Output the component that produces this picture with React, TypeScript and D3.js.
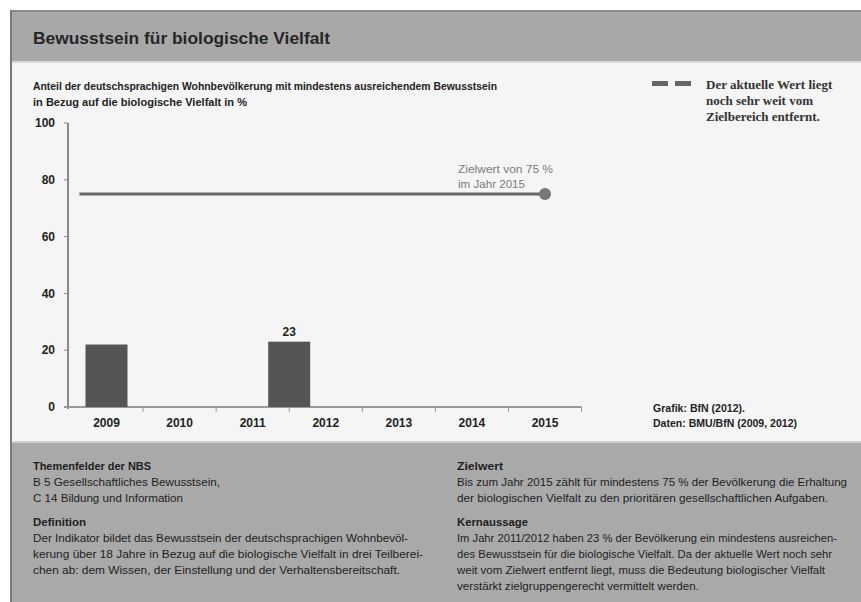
import React from "react";
import * as d3 from "d3";

const years = [2009, 2010, 2011, 2012, 2013, 2014, 2015];
const barPositions = [2009, 2011.5];
const barValues = [22, 23];
const barValueLabels = ["", "23"];
const yTicks = [0, 20, 40, 60, 80, 100];
const targetValue = 75;
const targetYear = 2015;
const targetLabel = ["Zielwert von 75 %", "im Jahr 2015"];

const title = "Bewusstsein für biologische Vielfalt";
const subtitle = [
  "Anteil der deutschsprachigen Wohnbevölkerung mit mindestens ausreichendem Bewusstsein",
  "in Bezug auf die biologische Vielfalt in %",
];
const legendText = ["Der aktuelle Wert liegt", "noch sehr weit vom", "Zielbereich entfernt."];
const sourceText = ["Grafik: BfN (2012).", "Daten: BMU/BfN (2009, 2012)"];

const leftBlock = [
  { t: "Themenfelder der NBS", b: true, w: 118 },
  { t: "B 5 Gesellschaftliches Bewusstsein,", b: false, w: 187 },
  { t: "C 14 Bildung und Information", b: false, w: 150 },
  { t: "Definition", b: true, gap: true, w: 53 },
  { t: "Der Indikator bildet das Bewusstsein der deutschsprachigen Wohnbevöl-", b: false, w: 375 },
  { t: "kerung über 18 Jahre in Bezug auf die biologische Vielfalt in drei Teilberei-", b: false, w: 390 },
  { t: "chen ab: dem Wissen, der Einstellung und der Verhaltensbereitschaft.", b: false, w: 367 },
];
const rightBlock = [
  { t: "Zielwert", b: true, w: 46 },
  { t: "Bis zum Jahr 2015 zählt für mindestens 75 % der Bevölkerung die Erhaltung", b: false, w: 390 },
  { t: "der biologischen Vielfalt zu den prioritären gesellschaftlichen Aufgaben.", b: false, w: 371 },
  { t: "Kernaussage", b: true, gap: true, w: 71 },
  { t: "Im Jahr 2011/2012 haben 23 % der Bevölkerung ein mindestens ausreichen-", b: false, w: 380 },
  { t: "des Bewusstsein für die biologische Vielfalt. Da der aktuelle Wert noch sehr", b: false, w: 375 },
  { t: "weit vom Zielwert entfernt liegt, muss die Bedeutung biologischer Vielfalt", b: false, w: 368 },
  { t: "verstärkt zielgruppengerecht vermittelt werden.", b: false, w: 242 },
];

const W = 861;
const H = 602;
const SANS = "'Liberation Sans Narrow', 'Liberation Sans', Arial, sans-serif";
const SERIF = "'Liberation Serif', 'DejaVu Serif', serif";

export default function App() {
  const x = d3.scaleLinear().domain([2009, 2015]).range([106.5, 545]);
  const y = d3.scaleLinear().domain([0, 100]).range([407, 123]);
  const step = x(2010) - x(2009);
  const barW = 42;
  const boundaries = years.map((yr) => yr + 0.5);

  const textBlock = (items: any[], x0: number) => {
    let yy = 466;
    return items.map((it, i) => {
      if (i > 0) yy += it.gap ? 24 : 16;
      return (
        <text
          key={i}
          x={x0}
          y={yy}
          dy="0.35em"
          fontFamily={SANS}
          fontSize={10.5}
          fontWeight={it.b ? 700 : 400}
          fill="#1e1e1e"
          {...(it.w ? { textLength: it.w, lengthAdjust: "spacingAndGlyphs" } : {})}
        >
          {it.t}
        </text>
      );
    });
  };

  return (
    <svg width={W} height={H} style={{ position: "absolute", left: 0, top: 0, display: "block" }}>
      <rect x={0} y={0} width={W} height={H} fill="#ffffff" />
      {/* chart panel */}
      <rect x={10} y={10} width={W - 10} height={H - 10} fill="#f5f5f5" />
      {/* title band */}
      <rect x={10} y={10} width={W - 10} height={2} fill="#8c8c8c" />
      <rect x={10} y={12} width={W - 10} height={49} fill="#a8a8a8" />
      <rect x={10} y={61} width={W - 10} height={2} fill="#d8d8d8" />
      <text
        x={33}
        y={38}
        dy="0.35em"
        fontFamily={SANS}
        fontSize={16.5}
        fontWeight={700}
        fill="#262626"
        textLength={297}
        lengthAdjust="spacingAndGlyphs"
      >
        {title}
      </text>
      {/* bottom panel */}
      <rect x={10} y={441} width={W - 10} height={2} fill="#d0d0d0" />
      <rect x={10} y={443} width={W - 10} height={H - 443} fill="#a9a9a9" />
      {/* left border */}
      <rect x={10} y={10} width={2} height={H - 10} fill="#7a7a7a" />

      {/* subtitle */}
      {subtitle.map((s, i) => (
        <text
          key={i}
          x={33}
          y={86 + i * 16}
          dy="0.35em"
          fontFamily={SANS}
          fontSize={10.5}
          fontWeight={700}
          fill="#222"
          textLength={i === 0 ? 464 : 214}
          lengthAdjust="spacingAndGlyphs"
        >
          {s}
        </text>
      ))}

      {/* legend */}
      <rect x={652} y={81} width={16} height={5} fill="#666" />
      <rect x={675} y={81} width={16} height={5} fill="#666" />
      {legendText.map((s, i) => (
        <text
          key={i}
          x={706}
          y={84 + i * 16}
          dy="0.35em"
          fontFamily={SERIF}
          fontSize={13}
          fontWeight={700}
          fill="#333"
        >
          {s}
        </text>
      ))}

      {/* y axis */}
      <line x1={68} x2={68} y1={y(100)} y2={y(0) + 2} stroke="#8a8a8a" strokeWidth={2} />
      {yTicks.map((t) => (
        <g key={t}>
          <line x1={64} x2={68} y1={y(t)} y2={y(t)} stroke="#8a8a8a" strokeWidth={1} />
          <text
            x={55}
            y={y(t)}
            dy="0.35em"
            textAnchor="end"
            fontFamily={SANS}
            fontSize={12}
            fontWeight={700}
            fill="#222"
          >
            {t}
          </text>
        </g>
      ))}

      {/* x axis */}
      <line x1={64} x2={x(2015.5)} y1={y(0)} y2={y(0)} stroke="#9a9a9a" strokeWidth={2} />
      {boundaries.map((b) => (
        <line key={b} x1={x(b)} x2={x(b)} y1={y(0)} y2={y(0) + 5} stroke="#9a9a9a" strokeWidth={1} />
      ))}
      {years.map((yr) => (
        <text
          key={yr}
          x={x(yr)}
          y={423}
          dy="0.35em"
          textAnchor="middle"
          fontFamily={SANS}
          fontSize={12}
          fontWeight={700}
          fill="#222"
        >
          {yr}
        </text>
      ))}

      {/* bars */}
      {barPositions.map((p, i) => (
        <g key={p}>
          <rect
            x={x(p) - barW / 2}
            y={y(barValues[i])}
            width={barW}
            height={y(0) - y(barValues[i])}
            fill="#555555"
          />
          {barValueLabels[i] && (
            <text
              x={x(p)}
              y={y(barValues[i]) - 10}
              dy="0.35em"
              textAnchor="middle"
              fontFamily={SANS}
              fontSize={12}
              fontWeight={700}
              fill="#222"
            >
              {barValueLabels[i]}
            </text>
          )}
        </g>
      ))}

      {/* target line */}
      <line
        x1={x(2009) - step * 0.37}
        x2={x(targetYear)}
        y1={y(targetValue)}
        y2={y(targetValue)}
        stroke="#666"
        strokeWidth={3}
      />
      <circle cx={x(targetYear)} cy={y(targetValue)} r={6} fill="#777" />
      {targetLabel.map((s, i) => (
        <text
          key={i}
          x={458}
          y={169 + i * 15}
          dy="0.35em"
          fontFamily={SANS}
          fontSize={11}
          fill="#7a7a7a"
          textLength={i === 0 ? 95 : 67}
          lengthAdjust="spacingAndGlyphs"
        >
          {s}
        </text>
      ))}

      {/* source */}
      {sourceText.map((s, i) => (
        <text
          key={i}
          x={653}
          y={408 + i * 15}
          dy="0.35em"
          fontFamily={SANS}
          fontSize={10.5}
          fontWeight={700}
          fill="#222"
          textLength={i === 0 ? 92 : 144}
          lengthAdjust="spacingAndGlyphs"
        >
          {s}
        </text>
      ))}

      {textBlock(leftBlock, 33)}
      {textBlock(rightBlock, 457)}
    </svg>
  );
}
